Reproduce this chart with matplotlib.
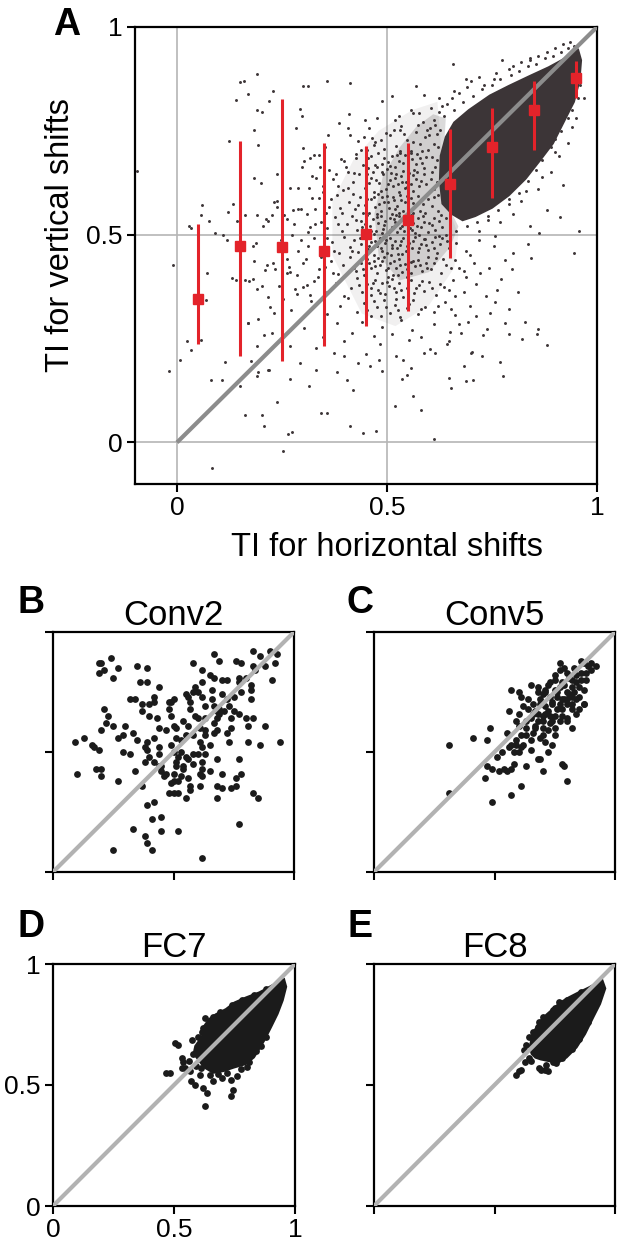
import matplotlib
matplotlib.use('Agg')
import matplotlib.pyplot as plt
import numpy as np

plt.rcParams['font.family'] = ['Liberation Sans', 'DejaVu Sans']

# ---- panel A: binned summary (red)
bin_x = [0.05, 0.15, 0.25, 0.35, 0.45, 0.55, 0.65, 0.75, 0.85, 0.95]
bin_mean = [0.345, 0.473, 0.471, 0.460, 0.502, 0.536, 0.623, 0.712, 0.800, 0.878]
bin_lo = [0.237, 0.209, 0.195, 0.233, 0.280, 0.317, 0.443, 0.588, 0.704, 0.829]
bin_hi = [0.527, 0.725, 0.826, 0.720, 0.713, 0.721, 0.755, 0.805, 0.870, 0.918]

# ---- panel A: solid core of the cloud
a_core_x = [0.632, 0.626, 0.628, 0.640, 0.660, 0.695, 0.745, 0.79, 0.84, 0.885, 0.925,
            0.955, 0.962, 0.958, 0.945, 0.92, 0.895, 0.865, 0.83, 0.79, 0.75, 0.71, 0.68,
            0.655]
a_core_y = [0.575, 0.63, 0.69, 0.735, 0.77, 0.80, 0.835, 0.858, 0.882, 0.903, 0.925,
            0.945, 0.92, 0.87, 0.82, 0.77, 0.72, 0.68, 0.635, 0.595, 0.565, 0.545, 0.535,
            0.55]
# densely dotted zones next to the core (light shading under the dots)
a_dense_x = [0.48, 0.47, 0.49, 0.53, 0.57, 0.61, 0.64, 0.635, 0.64, 0.67, 0.65, 0.60, 0.53]
a_dense_y = [0.45, 0.55, 0.64, 0.71, 0.76, 0.79, 0.78, 0.70, 0.58, 0.52, 0.47, 0.41, 0.39]
a_halo_x = [0.37, 0.37, 0.42, 0.48, 0.56, 0.62, 0.64, 0.67, 0.66, 0.60, 0.52, 0.44]
a_halo_y = [0.45, 0.58, 0.68, 0.75, 0.80, 0.82, 0.58, 0.50, 0.42, 0.33, 0.28, 0.31]

# ---- panel A: individual units (x, y pairs)
a_pairs = [
    0.191, 0.888, 0.149, 0.867, 0.159, 0.870, 0.356, 0.870, 0.412, 0.865, 0.301, 0.859,
    0.313, 0.857, 0.229, 0.846, 0.170, 0.838, 0.140, 0.825, 0.218, 0.823, 0.191, 0.800,
    0.202, 0.796, 0.293, 0.802, 0.298, 0.785, 0.409, 0.791, 0.488, 0.823, 0.511, 0.835,
    0.447, 0.777, 0.184, 0.753, 0.123, 0.725, 0.194, 0.717, 0.284, 0.757, 0.301, 0.709,
    0.326, 0.693, 0.360, 0.741, 0.407, 0.757, 0.430, 0.725, 0.464, 0.733, 0.520, 0.777,
    0.530, 0.753, 0.558, 0.801, 0.577, 0.793, 0.568, 0.858, 0.588, 0.836, 0.623, 0.830,
    0.658, 0.912, 0.689, 0.876, 0.754, 0.876, 0.774, 0.921, 0.840, 0.920, 0.918, 0.960,
    -0.096, 0.653, -0.009, 0.426, 0.913, 0.542, 0.956, 0.510, 0.861, 0.505, 0.946, 0.456,
    0.842, 0.444, 0.757, 0.496,
    0.059, 0.572, 0.033, 0.516, 0.090, 0.504, 0.109, 0.500, 0.142, 0.532, 0.161, 0.548,
    0.184, 0.637, 0.199, 0.625, 0.237, 0.645, 0.237, 0.580, 0.255, 0.548, 0.274, 0.500,
    0.289, 0.613, 0.303, 0.677, 0.317, 0.685, 0.331, 0.637, 0.322, 0.588, 0.378, 0.645,
    0.397, 0.677, 0.426, 0.685, 0.407, 0.613, 0.388, 0.564, 0.454, 0.661,
    0.056, 0.547, 0.029, 0.520, 0.077, 0.532, 0.121, 0.555, 0.134, 0.573, 0.072, 0.409,
    0.118, 0.488, 0.130, 0.397, 0.140, 0.391, 0.162, 0.390, 0.171, 0.389, 0.182, 0.393,
    0.191, 0.547, 0.211, 0.539, 0.216, 0.533, 0.225, 0.547, 0.238, 0.567, 0.249, 0.571,
    0.277, 0.559, 0.289, 0.563, 0.309, 0.551, 0.317, 0.519, 0.329, 0.527, 0.188, 0.480,
    0.183, 0.436, 0.229, 0.432, 0.233, 0.417, 0.210, 0.414, 0.190, 0.369, 0.202, 0.376,
    0.217, 0.351, 0.221, 0.327, 0.231, 0.311, 0.261, 0.407, 0.267, 0.423, 0.285, 0.403,
    0.301, 0.431, 0.281, 0.369, 0.301, 0.373, 0.317, 0.355, 0.170, 0.287, 0.206, 0.259,
    0.190, 0.231, 0.217, 0.175, 0.192, 0.169, 0.175, 0.195, 0.056, 0.247, 0.069, 0.343,
    -0.019, 0.172, 0.007, 0.198, 0.024, 0.244, 0.033, 0.223, 0.082, 0.150, 0.106, 0.151,
    0.114, 0.194, 0.150, 0.137, 0.161, 0.066, 0.202, 0.066, 0.208, 0.040, 0.191, 0.159,
    0.220, 0.174, 0.237, 0.097, 0.268, 0.153, 0.274, 0.024, 0.265, 0.021, 0.252, -0.020,
    0.083, -0.062, 0.314, 0.137, 0.342, 0.072, 0.356, 0.071, 0.380, 0.170, 0.405, 0.151,
    0.418, 0.127, 0.412, 0.040, 0.443, 0.023, 0.473, 0.027, 0.487, 0.171, 0.520, 0.087,
    0.535, 0.153, 0.547, 0.163, 0.563, 0.111, 0.582, 0.079, 0.612, 0.009, 0.648, 0.155,
    0.653, 0.131, 0.689, 0.147, 0.705, 0.150, 0.683, 0.185, 0.776, 0.159, 0.768, 0.194,
    0.781, 0.288, 0.821, 0.249, 0.828, 0.289, 0.859, 0.272, 0.856, 0.260, 0.882, 0.234,
    0.790, 0.260, 0.738, 0.272, 0.676, 0.264, 0.648, 0.244, 0.700, 0.215, 0.726, 0.207,
    0.615, 0.215, 0.587, 0.215, 0.558, 0.179, 0.539, 0.199, 0.482, 0.199, 0.459, 0.183,
    0.430, 0.191, 0.397, 0.207, 0.374, 0.215, 0.331, 0.175, 0.293, 0.191, 0.270, 0.232,
    0.227, 0.264, 0.194, 0.296, 0.170, 0.288,
    # strip 0.70-0.80
    0.352, 0.712, 0.385, 0.768, 0.412, 0.741, 0.437, 0.703, 0.458, 0.758, 0.471, 0.722,
    0.493, 0.706, 0.508, 0.739, 0.521, 0.714, 0.534, 0.762, 0.547, 0.728, 0.556, 0.702,
    0.569, 0.748, 0.578, 0.719, 0.591, 0.735, 0.603, 0.757, 0.612, 0.776, 0.585, 0.772,
    0.532, 0.701, 0.498, 0.745, 0.476, 0.781, 0.445, 0.736, 0.528, 0.786, 0.563, 0.792,
    0.604, 0.806, 0.624, 0.795, 0.642, 0.815, 0.655, 0.829, 0.671, 0.842,
    0.452, 0.703, 0.468, 0.715, 0.486, 0.728, 0.517, 0.752, 0.541, 0.742, 0.562, 0.723,
    0.574, 0.765, 0.596, 0.752, 0.583, 0.701, 0.549, 0.712, 0.618, 0.742, 0.622, 0.712,
    # strip 0.65-0.70
    0.298, 0.664, 0.338, 0.692, 0.362, 0.655, 0.391, 0.683, 0.408, 0.651, 0.427, 0.694,
    0.442, 0.667, 0.455, 0.684, 0.466, 0.652, 0.479, 0.696, 0.487, 0.671, 0.499, 0.658,
    0.512, 0.689, 0.519, 0.664, 0.528, 0.678, 0.537, 0.653, 0.543, 0.691, 0.551, 0.668,
    0.559, 0.682, 0.565, 0.657, 0.572, 0.694, 0.584, 0.673, 0.594, 0.688, 0.503, 0.676,
    0.472, 0.669, 0.531, 0.697,
    0.461, 0.689, 0.477, 0.662, 0.494, 0.684, 0.508, 0.666, 0.524, 0.691, 0.539, 0.672,
    0.557, 0.696, 0.569, 0.671, 0.578, 0.684, 0.589, 0.661, 0.598, 0.703, 0.607, 0.686,
    0.611, 0.718, 0.402, 0.664, 0.421, 0.648, 0.341, 0.663, 0.615, 0.664, 0.606, 0.652,
    # strip 0.60-0.65
    0.268, 0.612, 0.321, 0.641, 0.347, 0.618, 0.372, 0.633, 0.396, 0.607, 0.418, 0.628,
    0.433, 0.646, 0.447, 0.612, 0.461, 0.636, 0.469, 0.603, 0.482, 0.624, 0.491, 0.645,
    0.497, 0.611, 0.506, 0.632, 0.514, 0.618, 0.522, 0.645, 0.529, 0.603, 0.536, 0.628,
    0.542, 0.613, 0.549, 0.641, 0.556, 0.622, 0.562, 0.606, 0.568, 0.634, 0.575, 0.618,
    0.485, 0.606, 0.458, 0.624, 0.509, 0.648, 0.527, 0.622, 0.545, 0.628, 0.553, 0.648,
    0.453, 0.645, 0.474, 0.631, 0.488, 0.651, 0.502, 0.622, 0.518, 0.637, 0.533, 0.641,
    0.548, 0.616, 0.561, 0.643, 0.572, 0.652, 0.581, 0.629, 0.588, 0.645, 0.593, 0.621,
    0.348, 0.604, 0.383, 0.618, 0.315, 0.612, 0.604, 0.635, 0.612, 0.611, 0.619, 0.628,
    # strip 0.55-0.60
    0.231, 0.578, 0.296, 0.561, 0.338, 0.589, 0.362, 0.567, 0.381, 0.595, 0.394, 0.552,
    0.409, 0.578, 0.423, 0.561, 0.436, 0.592, 0.448, 0.571, 0.456, 0.553, 0.463, 0.586,
    0.471, 0.566, 0.478, 0.598, 0.486, 0.557, 0.492, 0.579, 0.499, 0.593, 0.505, 0.564,
    0.511, 0.551, 0.517, 0.583, 0.523, 0.569, 0.531, 0.596, 0.537, 0.556, 0.543, 0.578,
    0.551, 0.565, 0.557, 0.589, 0.563, 0.552, 0.571, 0.574, 0.578, 0.558, 0.442, 0.553,
    0.468, 0.592, 0.482, 0.574, 0.514, 0.592, 0.528, 0.553, 0.547, 0.594, 0.354, 0.553,
    0.418, 0.598,
    0.431, 0.572, 0.452, 0.586, 0.476, 0.551, 0.489, 0.591, 0.503, 0.579, 0.519, 0.561,
    0.534, 0.583, 0.549, 0.552, 0.562, 0.576, 0.574, 0.594, 0.585, 0.573, 0.591, 0.552,
    0.329, 0.563, 0.366, 0.586, 0.598, 0.586, 0.606, 0.568, 0.613, 0.592, 0.621, 0.556,
    # strip 0.50-0.55
    0.205, 0.521, 0.262, 0.538, 0.313, 0.507, 0.342, 0.531, 0.358, 0.516, 0.376, 0.543,
    0.393, 0.508, 0.405, 0.527, 0.417, 0.546, 0.428, 0.512, 0.437, 0.534, 0.446, 0.503,
    0.452, 0.548, 0.459, 0.521, 0.466, 0.537, 0.473, 0.509, 0.479, 0.529, 0.485, 0.546,
    0.491, 0.514, 0.496, 0.532, 0.502, 0.502, 0.508, 0.541, 0.513, 0.518, 0.519, 0.531,
    0.524, 0.507, 0.529, 0.544, 0.535, 0.522, 0.541, 0.509, 0.548, 0.538, 0.554, 0.516,
    0.561, 0.529, 0.567, 0.504, 0.574, 0.541, 0.582, 0.518, 0.589, 0.531, 0.597, 0.507,
    0.606, 0.523, 0.615, 0.512, 0.384, 0.526, 0.441, 0.519, 0.487, 0.503, 0.522, 0.548,
    0.557, 0.548, 0.468, 0.501,
    0.426, 0.535, 0.448, 0.527, 0.462, 0.509, 0.477, 0.543, 0.493, 0.524, 0.506, 0.511,
    0.516, 0.538, 0.531, 0.515, 0.545, 0.526, 0.559, 0.511, 0.571, 0.522, 0.586, 0.545,
    0.599, 0.528, 0.611, 0.541, 0.278, 0.527, 0.624, 0.532, 0.632, 0.518, 0.641, 0.541,
    # strip 0.45-0.50
    0.182, 0.472, 0.247, 0.488, 0.288, 0.461, 0.327, 0.493, 0.351, 0.468, 0.368, 0.482,
    0.386, 0.457, 0.398, 0.495, 0.411, 0.471, 0.422, 0.487, 0.431, 0.459, 0.439, 0.478,
    0.448, 0.494, 0.455, 0.466, 0.462, 0.483, 0.469, 0.452, 0.476, 0.472, 0.483, 0.491,
    0.489, 0.461, 0.495, 0.479, 0.501, 0.456, 0.507, 0.493, 0.513, 0.468, 0.519, 0.484,
    0.526, 0.454, 0.532, 0.476, 0.538, 0.492, 0.545, 0.461, 0.552, 0.481, 0.559, 0.467,
    0.566, 0.495, 0.573, 0.458, 0.581, 0.477, 0.589, 0.489, 0.598, 0.463, 0.607, 0.482,
    0.618, 0.457, 0.631, 0.491, 0.647, 0.468, 0.664, 0.479, 0.688, 0.462, 0.718, 0.487,
    0.754, 0.472, 0.536, 0.453, 0.509, 0.451, 0.577, 0.499, 0.623, 0.497, 0.651, 0.496,
    0.416, 0.462, 0.436, 0.491, 0.458, 0.474, 0.472, 0.486, 0.486, 0.468, 0.498, 0.488,
    0.511, 0.475, 0.523, 0.467, 0.534, 0.484, 0.548, 0.472, 0.562, 0.486, 0.576, 0.469,
    0.592, 0.476, 0.612, 0.469, 0.627, 0.478, 0.642, 0.486, 0.312, 0.472, 0.357, 0.493,
    0.374, 0.461, 0.295, 0.488, 0.801, 0.455, 0.836, 0.478, 0.697, 0.452,
    # strip 0.40-0.45
    0.214, 0.428, 0.268, 0.411, 0.307, 0.441, 0.339, 0.417, 0.366, 0.436, 0.384, 0.405,
    0.395, 0.428, 0.412, 0.446, 0.426, 0.413, 0.437, 0.432, 0.445, 0.402, 0.453, 0.441,
    0.461, 0.419, 0.468, 0.437, 0.477, 0.408, 0.484, 0.426, 0.492, 0.447, 0.498, 0.414,
    0.506, 0.433, 0.514, 0.404, 0.521, 0.421, 0.528, 0.442, 0.536, 0.411, 0.543, 0.429,
    0.551, 0.446, 0.558, 0.407, 0.566, 0.424, 0.574, 0.439, 0.583, 0.412, 0.592, 0.431,
    0.604, 0.418, 0.616, 0.443, 0.628, 0.409, 0.641, 0.427, 0.662, 0.438, 0.684, 0.413,
    0.706, 0.432, 0.742, 0.421, 0.781, 0.438, 0.478, 0.444, 0.526, 0.402, 0.557, 0.435,
    0.598, 0.446,
    0.421, 0.421, 0.443, 0.417, 0.458, 0.431, 0.472, 0.424, 0.489, 0.437, 0.503, 0.421,
    0.517, 0.436, 0.531, 0.427, 0.547, 0.418, 0.562, 0.436, 0.578, 0.427, 0.595, 0.419,
    0.611, 0.431, 0.634, 0.441, 0.652, 0.419, 0.343, 0.447, 0.262, 0.442, 0.352, 0.423,
    0.371, 0.408, 0.722, 0.408, 0.797, 0.418, 0.672, 0.421,
    # strip 0.35-0.40
    0.243, 0.377, 0.286, 0.358, 0.326, 0.389, 0.357, 0.362, 0.378, 0.384, 0.397, 0.353,
    0.415, 0.372, 0.429, 0.396, 0.441, 0.361, 0.453, 0.381, 0.462, 0.354, 0.471, 0.392,
    0.479, 0.368, 0.487, 0.383, 0.496, 0.357, 0.504, 0.376, 0.512, 0.394, 0.521, 0.363,
    0.529, 0.385, 0.538, 0.351, 0.547, 0.372, 0.556, 0.391, 0.565, 0.359, 0.576, 0.378,
    0.588, 0.364, 0.601, 0.387, 0.617, 0.356, 0.636, 0.374, 0.658, 0.392, 0.684, 0.361,
    0.713, 0.382, 0.761, 0.367, 0.503, 0.398, 0.548, 0.398, 0.461, 0.371,
    0.434, 0.378, 0.451, 0.366, 0.467, 0.384, 0.484, 0.359, 0.499, 0.386, 0.516, 0.371,
    0.533, 0.368, 0.551, 0.381, 0.569, 0.372, 0.583, 0.389, 0.607, 0.372, 0.626, 0.381,
    0.648, 0.368, 0.336, 0.398, 0.309, 0.378, 0.662, 0.352, 0.688, 0.398, 0.735, 0.352,
    0.771, 0.393, 0.812, 0.362,
    # strip 0.30-0.35
    0.272, 0.318, 0.318, 0.341, 0.356, 0.309, 0.387, 0.328, 0.408, 0.347, 0.428, 0.313,
    0.446, 0.336, 0.462, 0.305, 0.477, 0.327, 0.493, 0.344, 0.506, 0.312, 0.518, 0.331,
    0.532, 0.302, 0.547, 0.324, 0.561, 0.342, 0.574, 0.308, 0.591, 0.327, 0.613, 0.315,
    0.637, 0.338, 0.663, 0.306, 0.698, 0.329, 0.746, 0.312, 0.522, 0.346, 0.486, 0.305,
    0.452, 0.318, 0.469, 0.341, 0.498, 0.327, 0.527, 0.319, 0.553, 0.334, 0.582, 0.321,
    0.621, 0.329, 0.652, 0.322, 0.252, 0.346, 0.758, 0.338, 0.791, 0.322,
    # strip 0.20-0.30
    0.302, 0.276, 0.347, 0.254, 0.381, 0.288, 0.417, 0.263, 0.441, 0.291, 0.468, 0.257,
    0.489, 0.279, 0.512, 0.262, 0.534, 0.294, 0.559, 0.271, 0.582, 0.253, 0.611, 0.284,
    0.649, 0.267, 0.692, 0.289, 0.728, 0.258, 0.331, 0.228, 0.398, 0.243, 0.449, 0.214,
    0.483, 0.237, 0.521, 0.209, 0.552, 0.246, 0.603, 0.224, 0.642, 0.238, 0.702, 0.218,
    0.672, 0.285, 0.712, 0.305,
    # right of the core
    0.820, 0.580, 0.860, 0.610, 0.890, 0.650, 0.910, 0.690, 0.930, 0.720, 0.880, 0.560,
    0.800, 0.550, 0.770, 0.530, 0.840, 0.520, 0.950, 0.780, 0.970, 0.830, 0.920, 0.620,
    0.720, 0.510, 0.740, 0.535, 0.790, 0.575, 0.830, 0.605, 0.870, 0.640, 0.900, 0.700,
    0.940, 0.760,
    # above the core
    0.700, 0.870, 0.730, 0.860, 0.760, 0.890, 0.790, 0.900, 0.820, 0.915, 0.860, 0.930,
    0.880, 0.940, 0.660, 0.845, 0.690, 0.855, 0.630, 0.810, 0.720, 0.880, 0.800, 0.905,
    0.840, 0.925, 0.900, 0.950, 0.935, 0.965,
    # fringe of the core
    0.600, 0.740, 0.615, 0.765, 0.635, 0.785, 0.660, 0.800, 0.680, 0.820, 0.705, 0.835,
    0.725, 0.850, 0.750, 0.860, 0.770, 0.875, 0.795, 0.885, 0.815, 0.895, 0.835, 0.905,
    0.855, 0.910, 0.875, 0.925, 0.895, 0.930, 0.915, 0.940, 0.930, 0.950, 0.945, 0.955,
    0.960, 0.860, 0.955, 0.830, 0.940, 0.800, 0.930, 0.780, 0.915, 0.750, 0.900, 0.730,
    0.890, 0.710, 0.870, 0.680, 0.855, 0.655, 0.835, 0.630, 0.815, 0.600, 0.790, 0.585,
    0.765, 0.560, 0.740, 0.545, 0.715, 0.530, 0.690, 0.520, 0.665, 0.510, 0.640, 0.500,
    0.615, 0.495, 0.590, 0.490, 0.628, 0.548, 0.622, 0.596, 0.619, 0.680, 0.625, 0.752,
]

# ---- panel B: Conv2 units
conv2_pairs = [
    0.83, 0.92, 0.67, 0.91, 0.90, 0.92, 0.93, 0.91, 0.86, 0.90, 0.24, 0.89, 0.20, 0.87,
    0.19, 0.87, 0.69, 0.88, 0.76, 0.88, 0.78, 0.87, 0.58, 0.87, 0.83, 0.86, 0.88, 0.86,
    0.92, 0.87, 0.35, 0.86, 0.39, 0.85, 0.27, 0.85, 0.21, 0.84, 0.19, 0.83, 0.62, 0.84,
    0.84, 0.84, 0.25, 0.81, 0.65, 0.82, 0.67, 0.81, 0.70, 0.80, 0.72, 0.80, 0.77, 0.81,
    0.80, 0.81, 0.77, 0.79, 0.82, 0.78, 0.36, 0.79, 0.39, 0.79, 0.62, 0.79, 0.91, 0.80,
    0.44, 0.77, 0.59, 0.77, 0.58, 0.75, 0.55, 0.74, 0.60, 0.75, 0.56, 0.73, 0.66, 0.76,
    0.70, 0.74, 0.75, 0.73, 0.78, 0.75, 0.82, 0.76, 0.42, 0.73, 0.32, 0.72, 0.34, 0.72,
    0.40, 0.70, 0.42, 0.71, 0.37, 0.70, 0.48, 0.71, 0.50, 0.72, 0.49, 0.71, 0.57, 0.71,
    0.62, 0.73, 0.66, 0.72, 0.82, 0.72, 0.57, 0.68, 0.63, 0.69, 0.67, 0.69, 0.69, 0.68,
    0.72, 0.72, 0.73, 0.69, 0.75, 0.67, 0.77, 0.66, 0.68, 0.67, 0.71, 0.67, 0.21, 0.68,
    0.37, 0.67, 0.48, 0.68, 0.23, 0.65, 0.40, 0.65, 0.43, 0.64, 0.49, 0.65, 0.59, 0.65,
    0.60, 0.64, 0.63, 0.64, 0.68, 0.64, 0.69, 0.66, 0.74, 0.64, 0.80, 0.64, 0.83, 0.64,
    0.22, 0.62, 0.25, 0.61, 0.30, 0.61, 0.20, 0.59, 0.33, 0.58, 0.44, 0.60, 0.47, 0.59,
    0.50, 0.61, 0.54, 0.63, 0.51, 0.60, 0.56, 0.61, 0.61, 0.60, 0.63, 0.59, 0.67, 0.62,
    0.68, 0.59, 0.67, 0.58, 0.72, 0.58, 0.74, 0.60, 0.81, 0.61, 0.88, 0.61, 0.27, 0.56,
    0.29, 0.57, 0.35, 0.55, 0.42, 0.56, 0.51, 0.56, 0.55, 0.57, 0.58, 0.57, 0.63, 0.57,
    0.09, 0.54, 0.13, 0.56, 0.16, 0.53, 0.17, 0.52, 0.19, 0.51, 0.39, 0.54, 0.44, 0.52,
    0.38, 0.52, 0.49, 0.53, 0.53, 0.55, 0.61, 0.54, 0.62, 0.52, 0.65, 0.53, 0.73, 0.54,
    0.81, 0.54, 0.86, 0.53, 0.94, 0.54, 0.29, 0.50, 0.32, 0.49, 0.39, 0.51, 0.40, 0.48,
    0.38, 0.46, 0.44, 0.49, 0.50, 0.50, 0.52, 0.48, 0.53, 0.50, 0.55, 0.48, 0.58, 0.49,
    0.60, 0.49, 0.63, 0.49, 0.68, 0.47, 0.77, 0.47, 0.10, 0.41, 0.18, 0.43, 0.20, 0.43,
    0.20, 0.40, 0.34, 0.42, 0.42, 0.46, 0.44, 0.44, 0.51, 0.46, 0.51, 0.44, 0.54, 0.44,
    0.54, 0.43, 0.56, 0.47, 0.58, 0.45, 0.62, 0.46, 0.62, 0.43, 0.65, 0.42, 0.47, 0.41,
    0.46, 0.40, 0.45, 0.42, 0.50, 0.41, 0.53, 0.40, 0.56, 0.39, 0.61, 0.41, 0.62, 0.40,
    0.70, 0.41, 0.78, 0.41, 0.27, 0.38, 0.50, 0.38, 0.49, 0.37, 0.52, 0.38, 0.57, 0.36,
    0.61, 0.36, 0.68, 0.36, 0.70, 0.35, 0.74, 0.35, 0.76, 0.36, 0.76, 0.39, 0.37, 0.36,
    0.57, 0.34, 0.48, 0.33, 0.50, 0.33, 0.52, 0.33, 0.55, 0.31, 0.68, 0.31, 0.83, 0.33,
    0.85, 0.31, 0.39, 0.28, 0.42, 0.29, 0.41, 0.22, 0.45, 0.23, 0.77, 0.20, 0.33, 0.18,
    0.45, 0.17, 0.52, 0.17, 0.38, 0.15, 0.39, 0.12, 0.25, 0.09, 0.41, 0.09, 0.62, 0.06,
    0.45, 0.44,
]

# ---- panel C: Conv5 units
conv5_pairs = [
    0.77, 0.87, 0.79, 0.85, 0.86, 0.88, 0.87, 0.87, 0.89, 0.86, 0.92, 0.86, 0.90, 0.84,
    0.88, 0.83, 0.84, 0.82, 0.81, 0.81, 0.82, 0.80, 0.86, 0.80, 0.75, 0.80, 0.73, 0.79,
    0.78, 0.79, 0.65, 0.78, 0.68, 0.77, 0.71, 0.76, 0.75, 0.76, 0.77, 0.77, 0.80, 0.75,
    0.82, 0.77, 0.85, 0.77, 0.87, 0.76, 0.57, 0.76, 0.60, 0.75, 0.61, 0.73, 0.68, 0.75,
    0.71, 0.75, 0.73, 0.73, 0.76, 0.73, 0.79, 0.72, 0.82, 0.73, 0.84, 0.72, 0.87, 0.70,
    0.62, 0.69, 0.64, 0.68, 0.66, 0.70, 0.69, 0.70, 0.71, 0.69, 0.74, 0.70, 0.77, 0.70,
    0.80, 0.70, 0.82, 0.68, 0.85, 0.68, 0.87, 0.70, 0.56, 0.67, 0.60, 0.66, 0.67, 0.67,
    0.68, 0.66, 0.71, 0.66, 0.73, 0.65, 0.75, 0.65, 0.78, 0.65, 0.80, 0.64, 0.84, 0.66,
    0.59, 0.63, 0.63, 0.63, 0.65, 0.64, 0.68, 0.63, 0.70, 0.63, 0.74, 0.63, 0.77, 0.63,
    0.80, 0.63, 0.60, 0.61, 0.63, 0.60, 0.67, 0.61, 0.70, 0.60, 0.72, 0.59, 0.75, 0.60,
    0.82, 0.60, 0.48, 0.60, 0.41, 0.56, 0.47, 0.55, 0.55, 0.58, 0.59, 0.55, 0.63, 0.57,
    0.61, 0.57, 0.65, 0.55, 0.70, 0.57, 0.75, 0.57, 0.71, 0.54, 0.74, 0.53, 0.57, 0.53,
    0.59, 0.53, 0.61, 0.52, 0.62, 0.53, 0.56, 0.52, 0.53, 0.50, 0.51, 0.48, 0.58, 0.50,
    0.60, 0.50, 0.65, 0.51, 0.68, 0.47, 0.72, 0.50, 0.31, 0.53, 0.47, 0.44, 0.49, 0.43,
    0.52, 0.42, 0.54, 0.43, 0.55, 0.42, 0.57, 0.43, 0.58, 0.45, 0.63, 0.44, 0.69, 0.47,
    0.78, 0.45, 0.79, 0.44, 0.46, 0.39, 0.70, 0.42, 0.80, 0.38, 0.61, 0.36, 0.31, 0.33,
    0.57, 0.32, 0.49, 0.29,
    0.74, 0.71, 0.76, 0.68, 0.78, 0.68, 0.80, 0.72, 0.79, 0.78, 0.81, 0.74, 0.83, 0.75,
    0.76, 0.75, 0.72, 0.67, 0.70, 0.65, 0.73, 0.62, 0.69, 0.72, 0.66, 0.66, 0.84, 0.79,
    0.86, 0.83, 0.83, 0.85, 0.88, 0.80, 0.90, 0.87, 0.78, 0.72, 0.82, 0.70, 0.85, 0.73,
    0.75, 0.82, 0.77, 0.84, 0.80, 0.83, 0.72, 0.78, 0.70, 0.74, 0.64, 0.72, 0.67, 0.60,
    0.66, 0.58, 0.69, 0.56,
]

# ---- panel D: FC7 (dense core outline + outlying units)
fc7_core_x = [0.586, 0.592, 0.607, 0.620, 0.628, 0.648, 0.676, 0.717, 0.752, 0.800, 0.855,
              0.910, 0.952, 0.959, 0.945, 0.924, 0.897, 0.869, 0.827, 0.793, 0.745, 0.704,
              0.663, 0.628, 0.607]
fc7_core_y = [0.631, 0.659, 0.680, 0.700, 0.741, 0.769, 0.789, 0.810, 0.837, 0.858, 0.879,
              0.909, 0.931, 0.906, 0.851, 0.796, 0.741, 0.686, 0.617, 0.590, 0.576, 0.562,
              0.555, 0.576, 0.603]
fc7_pairs = [
    0.504, 0.672, 0.516, 0.664, 0.573, 0.686, 0.532, 0.611, 0.539, 0.597, 0.466, 0.549,
    0.483, 0.549, 0.532, 0.570, 0.546, 0.570, 0.566, 0.556, 0.607, 0.542, 0.570, 0.515,
    0.587, 0.499, 0.621, 0.488, 0.663, 0.515, 0.700, 0.529, 0.735, 0.522, 0.762, 0.536,
    0.742, 0.481, 0.735, 0.454, 0.635, 0.467, 0.800, 0.576, 0.628, 0.776, 0.648, 0.755,
    0.614, 0.721, 0.621, 0.734, 0.630, 0.415, 0.580, 0.630, 0.595, 0.645, 0.560, 0.600,
    0.590, 0.580, 0.610, 0.570, 0.650, 0.540, 0.680, 0.545, 0.720, 0.550, 0.775, 0.565,
    0.810, 0.595, 0.840, 0.640, 0.860, 0.660, 0.880, 0.700, 0.600, 0.700, 0.660, 0.780,
    0.690, 0.800, 0.740, 0.830, 0.780, 0.850, 0.830, 0.870, 0.880, 0.895, 0.930, 0.920,
]

# ---- panel E: FC8
fc8_core_x = [0.658, 0.651, 0.658, 0.672, 0.693, 0.720, 0.775, 0.810, 0.851, 0.893, 0.945,
              0.955, 0.934, 0.906, 0.872, 0.837, 0.796, 0.762, 0.727, 0.693, 0.672]
fc8_core_y = [0.631, 0.658, 0.692, 0.727, 0.761, 0.789, 0.837, 0.858, 0.879, 0.899, 0.927,
              0.899, 0.837, 0.782, 0.713, 0.658, 0.617, 0.596, 0.603, 0.610, 0.617]
fc8_pairs = [
    0.603, 0.556, 0.589, 0.540, 0.644, 0.610, 0.650, 0.600, 0.686, 0.569, 0.693, 0.562,
    0.713, 0.583, 0.679, 0.741, 0.686, 0.761, 0.713, 0.775, 0.741, 0.810, 0.769, 0.844,
    0.644, 0.699, 0.631, 0.665, 0.624, 0.645, 0.625, 0.597, 0.612, 0.560, 0.710, 0.563,
    0.723, 0.556, 0.743, 0.597, 0.773, 0.646, 0.660, 0.720, 0.700, 0.780, 0.750, 0.820,
    0.800, 0.850, 0.860, 0.885, 0.820, 0.650, 0.850, 0.690, 0.890, 0.760, 0.780, 0.610,
    0.755, 0.590,
]

tick_vals = [0, 0.5, 1]
tick_text = ['0', '0.5', '1']

RED = '#e3232a'
DOT = '#3c3537'
BLK = '#1b1b1b'

fig = plt.figure(figsize=(6.17, 12.49), dpi=100)


def style(ax):
    for sp in ax.spines.values():
        sp.set_linewidth(1.6)
    ax.tick_params(direction='out', length=5.8, width=1.5, labelsize=19, pad=3)


# panel A
axA = fig.add_axes([135 / 617, 1 - 484 / 1249, 462 / 617, 457 / 1249])
for v in [0, 0.5]:
    axA.axhline(v, color='#b5b5b5', lw=1.2, zorder=0)
    axA.axvline(v, color='#b5b5b5', lw=1.2, zorder=0)
axA.fill(a_halo_x, a_halo_y, color=DOT, alpha=0.07, lw=0, zorder=1)
axA.fill(a_dense_x, a_dense_y, color=DOT, alpha=0.18, lw=0, zorder=1)
axA.fill(a_core_x, a_core_y, color=DOT, lw=1.5, zorder=1)
a_pts = np.array(a_pairs).reshape(-1, 2)
axA.scatter(a_pts[:, 0], a_pts[:, 1], s=4.5, color=DOT, lw=0, zorder=2)
axA.plot([0, 1], [0, 1], color='#8c8c8c', lw=3, zorder=3, solid_capstyle='butt')
m = np.array(bin_mean)
axA.errorbar(bin_x, bin_mean, yerr=[m - np.array(bin_lo), np.array(bin_hi) - m],
             fmt='s', color=RED, ms=7.5, elinewidth=2.2, capsize=0, zorder=5)
axA.set_xlim(-0.1, 1.0)
axA.set_ylim(-0.1, 1.0)
axA.set_xticks(tick_vals, tick_text)
axA.set_yticks(tick_vals, tick_text)
style(axA)
axA.set_xlabel('TI for horizontal shifts', fontsize=23.5)
axA.set_ylabel('TI for vertical shifts', fontsize=23.5)
axA.xaxis.set_label_coords(0.545, -0.105)
axA.yaxis.set_label_coords(-0.128, 0.545)

# small panels
small = [
    ([53 / 617, 1 - 872 / 1249, 241 / 617, 240 / 1249], 'Conv2', conv2_pairs, None, None, False),
    ([374 / 617, 1 - 872 / 1249, 241 / 617, 240 / 1249], 'Conv5', conv5_pairs, None, None, False),
    ([53 / 617, 1 - 1206 / 1249, 242 / 617, 242 / 1249], 'FC7', fc7_pairs, fc7_core_x, fc7_core_y, True),
    ([374 / 617, 1 - 1206 / 1249, 241 / 617, 242 / 1249], 'FC8', fc8_pairs, fc8_core_x, fc8_core_y, False),
]
for rect, title, pairs, cx, cy, labels in small:
    ax = fig.add_axes(rect)
    if cx is not None:
        ax.fill(cx, cy, color=BLK, lw=3, zorder=1)
    pts = np.array(pairs).reshape(-1, 2)
    ax.scatter(pts[:, 0], pts[:, 1], s=24, color=BLK, lw=0, zorder=2)
    ax.plot([0, 1], [0, 1], color='#b2b2b2', lw=3, zorder=3)
    ax.set_xlim(0, 1)
    ax.set_ylim(0, 1)
    if labels:
        ax.set_xticks(tick_vals, tick_text)
        ax.set_yticks(tick_vals, tick_text)
    else:
        ax.set_xticks(tick_vals, ['', '', ''])
        ax.set_yticks(tick_vals, ['', '', ''])
    style(ax)
    ax.set_title(title, fontsize=25, pad=5)

# panel letters
for x, y, s in [(53, 7, 'A'), (17, 585, 'B'), (347, 585, 'C'), (17, 909, 'D'), (347, 909, 'E')]:
    fig.text(x / 617, 1 - y / 1249, s, fontsize=27, fontweight='bold', ha='left', va='top')

fig.savefig('out.png', dpi=100)
